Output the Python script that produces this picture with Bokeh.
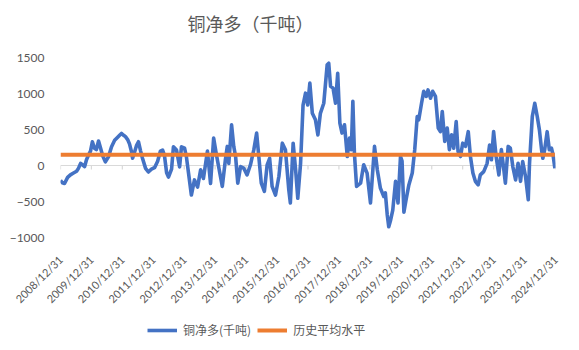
import math
import pandas as pd
from bokeh.plotting import figure
from bokeh.layouts import column
from bokeh.models import (Range1d, FixedTicker, DatetimeTickFormatter, Legend, LegendItem,
                          Span, Label)
from bokeh.embed import file_html
from bokeh.resources import INLINE

# ---------------- data ----------------
title_text = "铜净多（千吨）"
series_name = "铜净多(千吨)"
avg_name = "历史平均水平"

tick_labels = ["2008/12/31", "2009/12/31", "2010/12/31", "2011/12/31", "2012/12/31",
               "2013/12/31", "2014/12/31", "2015/12/31", "2016/12/31", "2017/12/31",
               "2018/12/31", "2019/12/31", "2020/12/31", "2021/12/31", "2022/12/31",
               "2023/12/31", "2024/12/31"]
y_ticks = [-1000, -500, 0, 500, 1000, 1500]

# observation times as decimal years
decimal_years = [
    2009.00, 2009.06, 2009.13, 2009.23, 2009.32, 2009.42, 2009.52, 2009.58, 2009.65, 2009.71,
    2009.78, 2009.84, 2009.90, 2009.97, 2010.03, 2010.10, 2010.16, 2010.23, 2010.29, 2010.36,
    2010.45, 2010.55, 2010.65, 2010.75, 2010.84, 2010.91, 2010.97, 2011.04, 2011.10, 2011.17,
    2011.23, 2011.29, 2011.33, 2011.39, 2011.46, 2011.52, 2011.59, 2011.65, 2011.75, 2011.84,
    2011.94, 2012.04, 2012.14, 2012.23, 2012.30, 2012.36, 2012.43, 2012.49, 2012.59, 2012.65,
    2012.75, 2012.85, 2012.91, 2013.01, 2013.07, 2013.14, 2013.23, 2013.33, 2013.43, 2013.53,
    2013.62, 2013.75, 2013.85, 2013.95, 2014.04, 2014.17, 2014.23, 2014.33, 2014.39, 2014.44,
    2014.53, 2014.60, 2014.66, 2014.73, 2014.82, 2014.92, 2015.03, 2015.14, 2015.25, 2015.34,
    2015.41, 2015.49, 2015.59, 2015.68, 2015.76, 2015.84, 2015.95, 2016.06, 2016.17, 2016.27,
    2016.38, 2016.43, 2016.52, 2016.60, 2016.67, 2016.76, 2016.84, 2016.92, 2016.99, 2017.06,
    2017.14, 2017.24, 2017.32, 2017.40, 2017.51, 2017.62, 2017.67, 2017.73, 2017.81, 2017.89,
    2017.96, 2018.03, 2018.10, 2018.18, 2018.27, 2018.34, 2018.40, 2018.45, 2018.50, 2018.57,
    2018.70, 2018.80, 2018.91, 2019.02, 2019.15, 2019.24, 2019.34, 2019.45, 2019.50, 2019.56,
    2019.61, 2019.67, 2019.74, 2019.83, 2019.91, 2019.99, 2020.04, 2020.10, 2020.17, 2020.26,
    2020.37, 2020.45, 2020.53, 2020.58, 2020.67, 2020.74, 2020.82, 2020.88, 2020.96, 2021.03,
    2021.12, 2021.21, 2021.28, 2021.34, 2021.42, 2021.50, 2021.57, 2021.64, 2021.71, 2021.79,
    2021.85, 2021.93, 2022.00, 2022.09, 2022.18, 2022.25, 2022.33, 2022.41, 2022.50, 2022.57,
    2022.68, 2022.79, 2022.87, 2022.93, 2023.00, 2023.08, 2023.17, 2023.25, 2023.33, 2023.38,
    2023.47, 2023.54, 2023.62, 2023.71, 2023.79, 2023.87, 2023.94, 2024.03, 2024.12, 2024.16,
    2024.25, 2024.33, 2024.41, 2024.48, 2024.55, 2024.59, 2024.65, 2024.73, 2024.80, 2024.87,
    2024.92, 2024.98,
]

net_long = [
    -205, -240, -250, -165, -130, -105, -80, -40, 30, 10,
    -15, 80, 140, 200, 330, 240, 220, 340, 250, 140,
    50, 120, 260, 350, 390, 420, 445, 420, 400, 360,
    300, 200, 100, 180, 280, 330, 200, 100, -40, -90,
    -50, -30, 60, 200, 215, 140, -100, -160, -50, 260,
    215, -20, 260, 240, 120, -110, -410, -200, -300, -60,
    -180, 200, -250, 380, 150, -150, -290, 80, 265, 30,
    565, 265, 125, -245, -15, -35, -130, 10, 220, 450,
    125, -245, -360, 10, 100, -290, -410, -150, 310, 220,
    -340, -520, 310, -60, -455, 30, 840, 1005, 840, 1145,
    725, 635, 425, 725, 865, 1400, 1420, 1100, 1075, 865,
    1280, 590, 450, 565, 125, 380, 220, 890, 170, -290,
    -245, 10, -105, -520, 265, -60, -315, -430, -380, -680,
    -850, -760, -620, -220, -520, 125, 60, -650, -475, -270,
    -105, 220, 680, 635, 865, 1030, 960, 1050, 935, 1030,
    960, 520, 470, 750, 335, 520, 220, 425, 240, 610,
    195, 125, 310, 265, 470, 125, -105, -220, -270, -130,
    -85, 30, 285, 80, 470, 125, -130, 220, -60, -245,
    265, 240, -15, -200, 30, -220, 55, -150, -475, 30,
    680, 865, 680, 495, 220, 100, 220, 470, 220, 240,
    150, -40,
]

avg_level = 150

# ---------------- derived ----------------
base = pd.Timestamp("2008-12-31")
dates = [(base + pd.Timedelta(days=(t - 2009.0) * 365.25)).to_pydatetime() for t in decimal_years]
tick_dates = [pd.Timestamp(s.replace("/", "-")) for s in tick_labels]
tick_py = [d.to_pydatetime() for d in tick_dates]
tick_ms = [d.value // 10**6 for d in tick_dates]

GRAY = "#595959"
BLUE = "#4472C4"
ORANGE = "#ED7D31"


def strip(height):
    f = figure(width=579, height=height, output_backend="svg", toolbar_location=None,
               x_axis_location=None, y_axis_location=None,
               x_range=Range1d(0, 1), y_range=Range1d(0, 1),
               min_border=0, min_border_left=0, min_border_right=0,
               min_border_top=0, min_border_bottom=0)
    f.title.visible = False
    f.xgrid.visible = False
    f.ygrid.visible = False
    f.outline_line_color = None
    f.border_fill_color = "white"
    return f


# ---------------- title strip ----------------
tf = strip(44)
tf.add_layout(Label(x=0.384, y=0.5, text=title_text, text_align="center",
                    text_baseline="middle", text_font="Noto Sans CJK SC",
                    text_font_size="18px", text_color=GRAY))

# ---------------- main chart ----------------
p = figure(width=579, height=277, x_axis_type="datetime",
           output_backend="svg", toolbar_location=None,
           x_range=Range1d(tick_py[0], tick_py[-1]),
           y_range=Range1d(y_ticks[0], y_ticks[-1]),
           min_border_left=60, min_border_right=24, min_border_top=13, min_border_bottom=84)
p.title.visible = False
p.xgrid.visible = False
p.ygrid.visible = False
p.outline_line_color = None
p.background_fill_color = "white"
p.border_fill_color = "white"

# zero axis line with small ticks
zero = Span(location=0, dimension="width", line_color="#D9D9D9", line_width=1.2, level="underlay")
p.add_layout(zero)
p.segment(x0=tick_py, y0=[0] * len(tick_py), x1=tick_py, y1=[-55] * len(tick_py),
          line_color="#D9D9D9", line_width=1.2, level="underlay")

p.line(dates, net_long, line_color=BLUE, line_width=3.6, line_join="round")
p.line([dates[0], dates[-1]], [avg_level, avg_level], line_color=ORANGE, line_width=4)

p.yaxis.ticker = FixedTicker(ticks=y_ticks)
p.yaxis.axis_line_color = None
p.yaxis.major_tick_line_color = None
p.yaxis.minor_tick_line_color = None
p.yaxis.major_label_standoff = 10
p.yaxis.major_label_text_font = "Lato"
p.yaxis.major_label_text_font_size = "12px"
p.yaxis.major_label_text_color = GRAY

p.xaxis.ticker = FixedTicker(ticks=tick_ms)
fmt = "%Y/%m/%d"
p.xaxis.formatter = DatetimeTickFormatter(years=fmt, months=fmt, days=fmt, hours=fmt,
                                          hourmin=fmt, minutes=fmt, minsec=fmt,
                                          seconds=fmt, milliseconds=fmt, microseconds=fmt)
p.xaxis.axis_line_color = None
p.xaxis.major_tick_line_color = None
p.xaxis.minor_tick_line_color = None
p.xaxis.major_label_orientation = math.pi / 4
p.xaxis.major_label_standoff = 14
p.xaxis.major_label_text_font = "Lato"
p.xaxis.major_label_text_font_size = "11px"
p.xaxis.major_label_text_color = GRAY

# ---------------- legend strip ----------------
lg = strip(29)
# the series drawn here lie outside this strip's 0..1 ranges; they only feed the legend keys
k1 = lg.line(dates, net_long, line_color=BLUE, line_width=3.6)
k2 = lg.line([dates[0], dates[-1]], [avg_level, avg_level], line_color=ORANGE, line_width=4)

legend = Legend(items=[LegendItem(label=series_name, renderers=[k1]),
                       LegendItem(label=avg_name, renderers=[k2])],
                orientation="horizontal", location=(87, 12),
                border_line_color=None, background_fill_alpha=0,
                padding=0, margin=0, spacing=6, glyph_width=30, glyph_height=14,
                label_standoff=6, label_text_font="Noto Sans CJK SC",
                label_text_font_size="12px", label_text_color=GRAY)
lg.add_layout(legend)

layout = column(tf, p, lg, spacing=0)
open("out.html", "w").write(file_html(layout, INLINE))
